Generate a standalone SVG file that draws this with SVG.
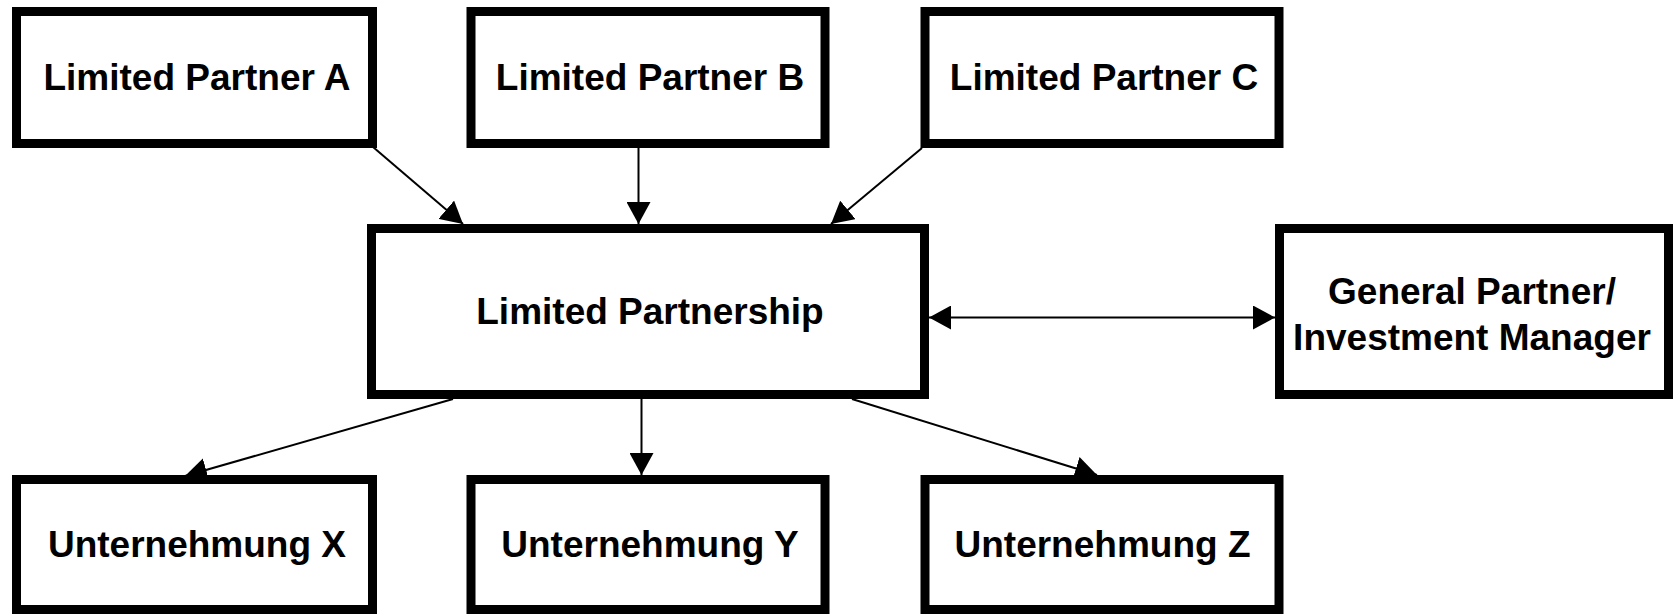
<svg xmlns="http://www.w3.org/2000/svg" width="1673" height="614" viewBox="0 0 1673 614">
  <style>
    .box { fill: #ffffff; stroke: #000000; stroke-width: 9; }
    .lbl { font-family: "Liberation Sans", Arial, Helvetica, sans-serif; font-weight: bold; font-size: 37px; fill: #000000; text-anchor: middle; }
    .edge { stroke: #000000; stroke-width: 2; fill: none; marker-end: url(#arrow); }
    .both { marker-start: url(#arrow); }
  </style>
  <defs>
    <marker id="arrow" markerUnits="userSpaceOnUse" markerWidth="22" markerHeight="24" refX="22" refY="12" orient="auto-start-reverse" viewBox="0 0 22 24">
      <path d="M0,0 L22,12 L0,24 Z" fill="#000000"/>
    </marker>
  </defs>

  <rect width="1673" height="614" fill="#ffffff"/>

  <!-- connectors -->
  <g id="connectors">
    <line class="edge" x1="373" y1="147" x2="463" y2="224"/>
    <line class="edge" x1="638.5" y1="148" x2="638.5" y2="224"/>
    <line class="edge" x1="922" y1="148" x2="831" y2="224"/>
    <line class="edge both" x1="929" y1="317.5" x2="1275" y2="317.5"/>
    <line class="edge" x1="453" y1="399" x2="185" y2="476"/>
    <line class="edge" x1="641.5" y1="399" x2="641.5" y2="475"/>
    <line class="edge" x1="852" y1="399" x2="1097" y2="475"/>
  </g>

  <!-- limited partners -->
  <g id="partner-a">
    <rect class="box" x="16.5" y="11.5" width="356" height="132"/>
    <text class="lbl" x="197" y="90">Limited Partner A</text>
  </g>
  <g id="partner-b">
    <rect class="box" x="471" y="11.5" width="354" height="132"/>
    <text class="lbl" x="650" y="90">Limited Partner B</text>
  </g>
  <g id="partner-c">
    <rect class="box" x="925" y="11.5" width="354" height="132"/>
    <text class="lbl" x="1104" y="90">Limited Partner C</text>
  </g>

  <!-- partnership and manager -->
  <g id="partnership">
    <rect class="box" x="371.5" y="228.5" width="553" height="166"/>
    <text class="lbl" x="650" y="324">Limited Partnership</text>
  </g>
  <g id="general-partner">
    <rect class="box" x="1279.5" y="228.5" width="389" height="166"/>
    <text class="lbl" x="1472" y="304">General Partner/</text>
    <text class="lbl" x="1472" y="350">Investment Manager</text>
  </g>

  <!-- portfolio companies -->
  <g id="company-x">
    <rect class="box" x="16.5" y="479.5" width="356" height="130"/>
    <text class="lbl" x="197" y="557">Unternehmung X</text>
  </g>
  <g id="company-y">
    <rect class="box" x="471" y="479.5" width="354" height="130"/>
    <text class="lbl" x="650" y="557">Unternehmung Y</text>
  </g>
  <g id="company-z">
    <rect class="box" x="925" y="479.5" width="354" height="130"/>
    <text class="lbl" x="1102.5" y="557">Unternehmung Z</text>
  </g>
</svg>
